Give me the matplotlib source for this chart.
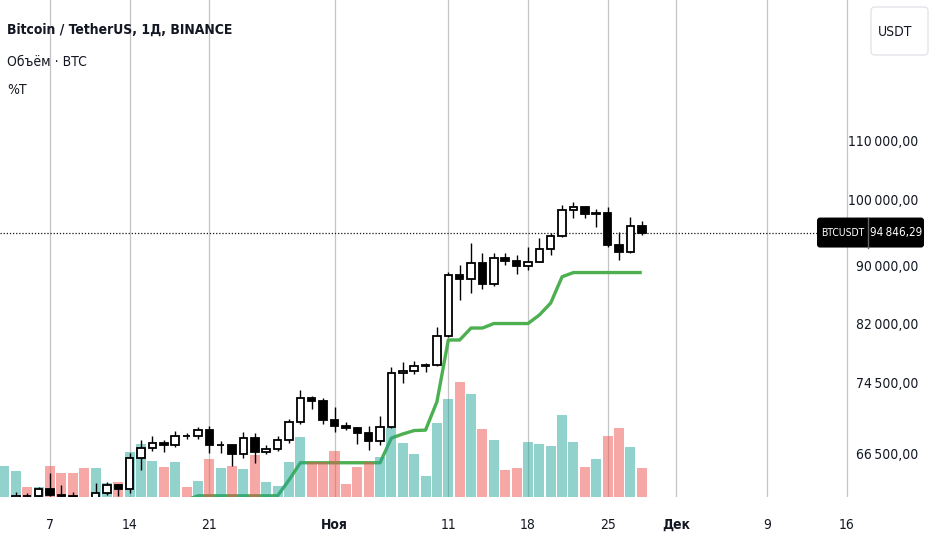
import matplotlib
matplotlib.use("Agg")
import matplotlib.pyplot as plt
import matplotlib.dates as mdates
import numpy as np
import pandas as pd
from matplotlib import font_manager
from matplotlib.patches import FancyBboxPatch
from matplotlib.transforms import IdentityTransform
from matplotlib.ticker import FixedLocator, FuncFormatter, NullLocator

# ---- daily candles BTCUSDT, 3 Oct - 28 Nov 2024 ----
dates = pd.date_range("2024-10-03", "2024-11-28", freq="D")

opens = [60649, 60752, 62086, 62058, 62819, 62224, 62134, 60583, 60274, 62445,
         63193, 62851, 66046, 67041, 67612, 67399, 68418, 68362, 69001, 67367,
         67361, 66432, 68161, 66642, 67014, 67929, 69907, 72720, 72339, 70216,
         69482, 69289, 68742, 67811, 69360, 75640, 75905, 76538, 76649, 80370,
         88647, 87952, 90375, 87325, 91032, 90587, 89855, 90464, 92310, 94287,
         98318, 98892, 97672, 97900, 93010, 91965, 95863]
highs = [61469, 62484, 62370, 62975, 64478, 63200, 62543, 61320, 63417, 63480,
         63285, 66500, 67950, 68424, 67939, 68969, 68694, 69400, 69500, 67836,
         67400, 68850, 68772, 67454, 68348, 70270, 73620, 72961, 72700, 71632,
         70000, 69387, 69481, 70577, 76400, 76999, 77199, 76932, 81500, 89000,
         89956, 93265, 91790, 91850, 91779, 91449, 92594, 94002, 94831, 99073,
         99588, 98908, 98564, 98871, 94973, 97208, 96650]
lows = [59828, 60459, 61689, 61798, 62128, 61860, 60300, 58946, 60084, 62208,
        62050, 62443, 64800, 66750, 66666, 67177, 68055, 68100, 66518, 66571,
        65188, 66055, 65520, 66436, 66769, 67618, 69729, 71436, 69685, 68820,
        68999, 67478, 66835, 67458, 69298, 74417, 75559, 75773, 76492, 80216,
        85072, 86127, 86668, 87073, 90057, 88723, 89376, 90403, 91500, 94140,
        97122, 97136, 95734, 92600, 90791, 91792, 94500]
closes = [60752, 62086, 62058, 62819, 62224, 62134, 60583, 60274, 62445, 63193,
          62851, 66046, 67041, 67612, 67399, 68418, 68362, 69001, 67367, 67378,
          66432, 68161, 66642, 67014, 67929, 69907, 72720, 72339, 70216, 69482,
          69289, 68742, 67811, 69360, 75640, 75905, 76538, 76649, 80370, 88647,
          87952, 90375, 87325, 91032, 90587, 89855, 90464, 92310, 94287, 98318,
          98892, 97672, 97900, 93010, 91965, 95863, 94846.29]

# volume, thousand BTC
volume = [31, 26, 10, 10, 31, 24, 24, 29, 29, 14, 15, 45, 53, 36, 30, 35, 10, 16,
          38.5, 29, 31, 28, 42, 15, 11, 35, 60, 35, 35, 46, 13, 30, 35, 40, 69,
          54, 43.5, 21, 74, 98, 115, 103, 68, 57, 27.5, 29, 55, 53, 51, 82, 55,
          30, 38, 61, 69, 50, 29]

# %T line
nan = np.nan
trail = [nan] * 16 + [61700] + [62120] * 8 + [63710] + [65510] * 8 + \
        [68160, 68610, 68990, 69040, 72260, 79800, 79800, 81350, 81350] + \
        [81940] * 4 + [83070, 84690, 88340] + [88940] * 7

tick_dates = ["2024-10-07", "2024-10-14", "2024-10-21", "2024-11-01",
              "2024-11-11", "2024-11-18", "2024-11-25", "2024-12-01",
              "2024-12-09", "2024-12-16"]
tick_labels = ["7", "14", "21", "Ноя", "11", "18", "25", "Дек", "9", "16"]
month_labels = ["Ноя", "Дек"]
price_ticks = [66500, 74500, 82000, 90000, 100000, 110000]

TEXT = "#131722"
UP_VOL = (38 / 255, 166 / 255, 154 / 255, 0.5)
DN_VOL = (239 / 255, 83 / 255, 80 / 255, 0.5)


def has_cyrillic(path):
    try:
        cmap = font_manager.get_font(path).get_charmap()
    except Exception:
        return False
    return all(ord(ch) in cmap for ch in "ДНояЁё")


def pick_font():
    # text in the chart is very narrow -> condensed face with cyrillic if any
    cands = []
    for f in font_manager.fontManager.ttflist:
        narrow = ("Narrow" in f.name or "Condensed" in f.name
                  or "condensed" in str(f.stretch))
        if narrow and f.style == "normal" and has_cyrillic(f.fname):
            cands.append(f)
    bold = {(f.name, str(f.stretch)) for f in cands
            if f.weight in (600, 700, "bold", "semibold")}
    regular = [f for f in cands if f.weight in (400, "normal", "regular")]
    regular.sort(key=lambda f: (f.name, str(f.stretch)) not in bold)
    if regular:
        f = regular[0]
        st = f.stretch if "condensed" in str(f.stretch) else "normal"
        return f.name, st, 10
    return "Roboto", "normal", 8.5


FONT, STRETCH, FS = pick_font()
plt.rcParams["font.family"] = [FONT, "DejaVu Sans"]
plt.rcParams["font.stretch"] = STRETCH

W, H = 932, 550
fig = plt.figure(figsize=(W / 100, H / 100), dpi=100, facecolor="white")
rect = [0, 53 / H, 868 / W, 497 / H]

x = mdates.date2num(dates)
x0 = mdates.date2num(pd.Timestamp("2024-10-07"))
xlim = (x0 - 4.394, x0 + 71.88)
ylim = (62000, 137840)
opens = np.array(opens, float)
closes = np.array(closes, float)
up = closes >= opens

# back layer: grid + %T line
ax_line = fig.add_axes(rect, zorder=1)
ax_line.set_yscale("log")
ax_line.set_xlim(xlim)
ax_line.set_ylim(ylim)
ax_line.set_xticks(mdates.date2num(pd.to_datetime(tick_dates)))
ax_line.set_xticklabels([])
ax_line.yaxis.set_major_locator(NullLocator())
ax_line.yaxis.set_minor_locator(NullLocator())
ax_line.tick_params(length=0)
ax_line.grid(axis="x", color="#c4c4c4", lw=0.9)
ax_line.plot(x, trail, color="#4caf50", lw=2.4, solid_capstyle="butt")
for s in ax_line.spines.values():
    s.set_visible(False)

# middle layer: volume
ax_vol = fig.add_axes(rect, zorder=2, facecolor="none")
ax_vol.bar(x, volume, width=0.88, color=[UP_VOL if u else DN_VOL for u in up])
ax_vol.set_xlim(xlim)
ax_vol.set_ylim(0, 497)
ax_vol.axis("off")

# top layer: candles + scales
ax = fig.add_axes(rect, zorder=3, facecolor="none")
ax.set_yscale("log")
ax.vlines(x, lows, highs, color="black", lw=1.0, zorder=2)
ax.bar(x, np.abs(closes - opens), bottom=np.minimum(opens, closes), width=0.66,
       color=["white" if u else "black" for u in up], edgecolor="black",
       lw=1.3, zorder=3)
ax.axhline(closes[-1], xmax=817 / 868, color=TEXT, lw=0.9, ls=(0, (1, 1.5)))
ax.set_xlim(xlim)
ax.set_ylim(ylim)
for s in ax.spines.values():
    s.set_visible(False)

ax.set_xticks(mdates.date2num(pd.to_datetime(tick_dates)))
ax.set_xticklabels(tick_labels)
ax.tick_params(axis="x", length=0, pad=15, labelsize=FS, labelcolor=TEXT)
for lbl in ax.get_xticklabels():
    if lbl.get_text() in month_labels:
        lbl.set_fontweight("bold")


def price_fmt(v, pos=None):
    s = f"{v:,.2f}"
    return s.replace(",", "\u2009").replace(".", ",")


ax.yaxis.set_major_locator(FixedLocator(price_ticks))
ax.yaxis.set_minor_locator(NullLocator())
ax.yaxis.set_major_formatter(FuncFormatter(price_fmt))
ax.tick_params(axis="y", left=False, labelleft=False, right=True,
               labelright=True, length=0, pad=36, labelsize=FS,
               labelcolor=TEXT)
plt.setp(ax.get_yticklabels(), ha="right")

# last price label
y_last = ax.transData.transform((x0, closes[-1]))[1]
fig.add_artist(FancyBboxPatch((817, y_last - 15), 107, 30,
                              boxstyle="round,pad=0,rounding_size=3",
                              transform=IdentityTransform(), fc="black",
                              ec="none", zorder=5))
fig.add_artist(plt.Line2D([868, 868], [y_last - 15, y_last + 15],
                          transform=IdentityTransform(), color="#666666",
                          lw=1, zorder=6))
fig.text(842.5, y_last, "BTCUSDT", transform=IdentityTransform(), color="white",
         ha="center", va="center", fontsize=7.5, zorder=7)
fig.text(896, y_last, price_fmt(closes[-1]), transform=IdentityTransform(),
         color="white", ha="center", va="center", fontsize=8.5, zorder=7)

# currency box
fig.add_artist(FancyBboxPatch((871, H - 55), 57, 48,
                              boxstyle="round,pad=0,rounding_size=4",
                              transform=IdentityTransform(), fc="white",
                              ec="#e3e5ea", lw=1, zorder=5))
fig.text(878, H - 31.5, "USDT", transform=IdentityTransform(), color=TEXT,
         ha="left", va="center", fontsize=FS, zorder=6)

# legend lines top-left
fig.text(7, H - 30, "Bitcoin / TetherUS, 1Д, BINANCE",
         transform=IdentityTransform(), color=TEXT, fontsize=FS,
         fontweight="bold", va="center")
fig.text(7, H - 62.5, "Объём · BTC", transform=IdentityTransform(),
         color=TEXT, fontsize=FS, va="center")
fig.text(7, H - 90, "%T", transform=IdentityTransform(), color=TEXT,
         fontsize=FS, va="center")

fig.savefig("out.png", dpi=100, facecolor="white")
